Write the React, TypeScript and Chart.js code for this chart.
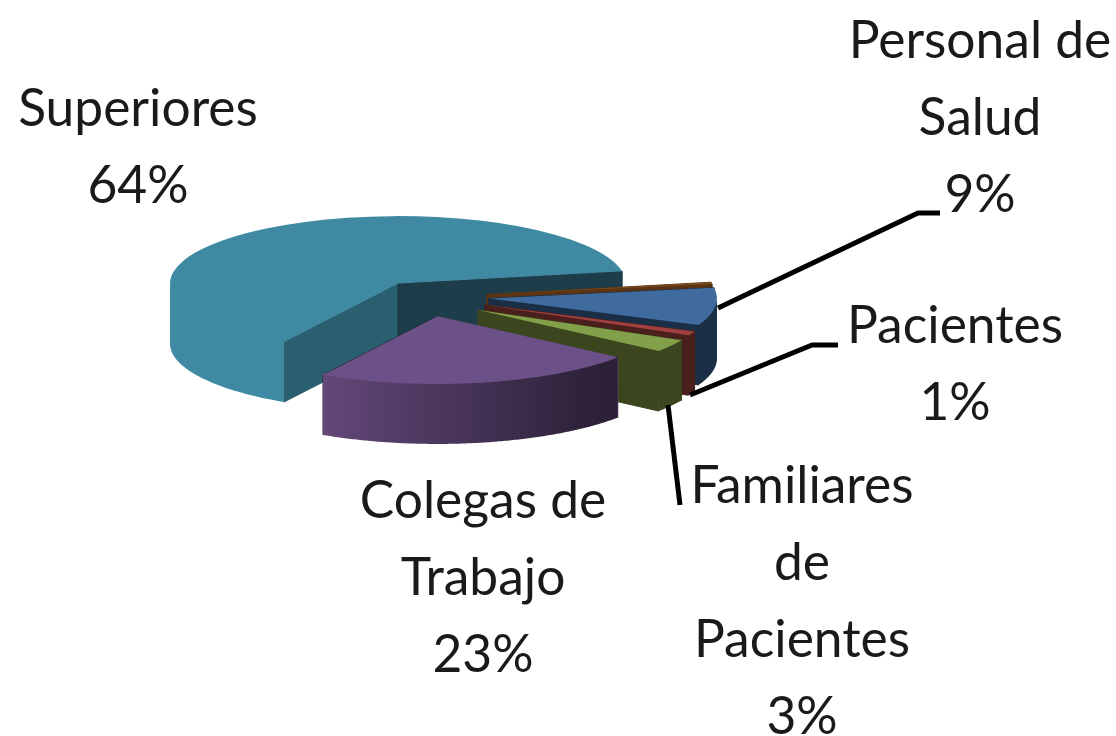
import React, { useEffect, useRef } from "react";
import { Chart, registerables } from "chart.js";

Chart.register(...registerables);

const categories = ["Superiores", "", "Personal de Salud", "Pacientes", "Familiares de Pacientes", "Colegas de Trabajo"];
const values = [64, 0.4, 9, 1, 3, 23];
const labelLines = [["Superiores"], [], ["Personal de", "Salud"], ["Pacientes"], ["Familiares", "de", "Pacientes"], ["Colegas de", "Trabajo"]];
const percentLabels = ["64%", "", "9%", "1%", "3%", "23%"];
const sliceShiftX = [-17, 72, 74, 70, 63, 22];
const sliceShiftY = [-25, 12, 25, 47, 64, 86];
const topColors = ["#3f89a3", "#7a4a20", "#406b9e", "#a04040", "#82a04a", "#6b5187"];
const wallColors = ["#3f89a3", "#5c3413", "#1a2e45", "#4b1f1c", "#3b451e", "#65497c"];
const wallEndColors = ["#3f89a3", "#5c3413", "#1a2e45", "#4b1f1c", "#3b451e", "#2c2138"];
const startCutColors = ["#2a5f70", "#5c3413", "#1a2e45", "#4b1f1c", "#3b451e", "#65497c"];
const endCutColors = ["#1c3d49", "#5c3413", "#1a2e45", "#4b1f1c", "#3b451e", "#2c2138"];
const drawOrder = [0, 1, 2, 3, 4, 5];

const SQUASH = 0.296;
const DEPTH = 60;
const FONT = '51.5px Lato';
const LINE = 77;
const labelAnchors: Record<number, [number, number]> = {
  0: [138, 126],
  2: [980, 58],
  3: [955, 343],
  4: [802, 503],
  5: [483, 518],
};
const leaders = [
  [[718, 308], [918, 213], [940, 213]],
  [[690, 395], [812, 345], [838, 345]],
  [[668, 405], [680, 505]],
];

const pie3d = {
  id: "pie3d",
  beforeDatasetDraw(chart: any) {
    const ctx = chart.ctx as CanvasRenderingContext2D;
    const arcs = chart.getDatasetMeta(0).data;
    const cy = (chart.chartArea.top + chart.chartArea.bottom) / 2;
    ctx.lineWidth = 1;
    for (const i of drawOrder) {
      const a = arcs[i];
      const dx = sliceShiftX[i];
      const dy = sliceShiftY[i];
      const ox = a.x + dx;
      const oy = cy + (a.y + dy - cy) * SQUASH;
      const px = (t: number) => ox + Math.cos(t) * a.outerRadius;
      const py = (t: number) => oy + Math.sin(t) * a.outerRadius * SQUASH;
      const face = (t: number, color: string) => {
        ctx.beginPath();
        ctx.moveTo(ox, oy);
        ctx.lineTo(px(t), py(t));
        ctx.lineTo(px(t), py(t) + DEPTH);
        ctx.lineTo(ox, oy + DEPTH);
        ctx.closePath();
        ctx.fillStyle = color;
        ctx.strokeStyle = color;
        ctx.fill();
        ctx.stroke();
      };
      face(a.startAngle, startCutColors[i]);
      face(a.endAngle, endCutColors[i]);
      // outer wall: only the arc that faces the viewer
      const steps = 160;
      const front: number[] = [];
      for (let s = 0; s <= steps; s++) {
        const t = a.startAngle + ((a.endAngle - a.startAngle) * s) / steps;
        if (Math.sin(t) >= -0.001) front.push(t);
        else if (front.length) break;
      }
      if (front.length > 1) {
        ctx.beginPath();
        front.forEach((t, k) => (k ? ctx.lineTo(px(t), py(t) - 2) : ctx.moveTo(px(t), py(t) - 2)));
        for (let k = front.length - 1; k >= 0; k--) ctx.lineTo(px(front[k]), py(front[k]) + DEPTH);
        ctx.closePath();
        const g = ctx.createLinearGradient(ox - a.outerRadius, 0, ox + a.outerRadius, 0);
        g.addColorStop(i === 5 ? 0.22 : 0, wallColors[i]);
        g.addColorStop(i === 5 ? 0.85 : 1, wallEndColors[i]);
        ctx.fillStyle = g;
        ctx.fill();
      }
      // top face, drawn by the library's own arc element
      ctx.save();
      ctx.translate(0, cy);
      ctx.scale(1, SQUASH);
      ctx.translate(0, -cy);
      ctx.translate(dx, dy);
      a.draw(ctx);
      ctx.restore();
    }
    return false;
  },
  afterDatasetsDraw(chart: any) {
    const ctx = chart.ctx as CanvasRenderingContext2D;
    ctx.save();
    ctx.strokeStyle = "#000000";
    ctx.lineWidth = 5;
    ctx.lineJoin = "round";
    for (const path of leaders) {
      ctx.beginPath();
      path.forEach(([x, y], k) => (k ? ctx.lineTo(x, y) : ctx.moveTo(x, y)));
      ctx.stroke();
    }
    ctx.font = FONT;
    ctx.fillStyle = "#1a1a1a";
    ctx.textAlign = "center";
    ctx.textBaseline = "alphabetic";
    categories.forEach((_, i) => {
      const anchor = labelAnchors[i];
      if (!anchor) return;
      const lines = [...labelLines[i], percentLabels[i]];
      lines.forEach((text, k) => ctx.fillText(text, anchor[0], anchor[1] + k * LINE));
    });
    ctx.restore();
  },
};

export default function App() {
  const ref = useRef<HTMLCanvasElement>(null);
  useEffect(() => {
    document.body.style.margin = "0";
    const chart = new Chart(ref.current!, {
      type: "pie",
      data: {
        labels: categories,
        datasets: [{ data: values, backgroundColor: topColors, borderWidth: 0 }],
      },
      options: {
        animation: false,
        responsive: false,
        rotation: 210,
        radius: 228,
        layout: { padding: { right: 286, bottom: 154 } },
        plugins: { legend: { display: false }, tooltip: { enabled: false } },
      },
      plugins: [pie3d],
    } as any);
    return () => chart.destroy();
  }, []);
  return <canvas ref={ref} width={1116} height={736} style={{ display: "block", filter: "blur(0.7px)" }} />;
}
